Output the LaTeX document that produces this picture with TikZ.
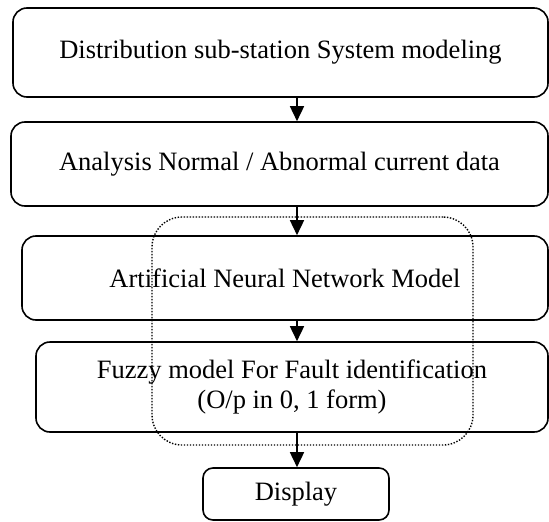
\documentclass[tikz,border=0pt]{standalone}
\usepackage{fontspec}
\setmainfont{Liberation Serif}
\usetikzlibrary{arrows.meta}
\begin{document}
\begin{tikzpicture}[x=1pt,y=-1pt,
  stepbox/.style={draw, line width=1.6pt, rounded corners=14pt, inner sep=0pt, align=center,
    font=\fontsize{26.5}{30}\selectfont},
  arr/.style={line width=1.6pt, -{Triangle[width=14pt,length=15pt]}},
  dotbox/.style={draw, line width=1.4pt, dash pattern=on 1.4pt off 1.6pt, rounded corners=30pt}]
\useasboundingbox (0,0) rectangle (549,522);
\node[stepbox, minimum width=535pt, minimum height=89pt] (b1) at (280.5,52.5) {Distribution sub-station System modeling};
\node[stepbox, minimum width=537pt, minimum height=84pt] (b2) at (279.5,164) {Analysis Normal / Abnormal current data};
\node[stepbox, minimum width=526pt, minimum height=84pt] (b3) at (285,278) {Artificial Neural Network Model};
\node[stepbox, minimum width=512pt, minimum height=90pt] (b4) at (292,387) {Fuzzy model For Fault identification\\(O/p in 0, 1 form)};
\node[stepbox, rounded corners=10pt, minimum width=186pt, minimum height=52pt] (b5) at (296,494) {Display};
\coordinate (ax) at (297,0);
\draw[arr] (b1.south -| ax) -- (b2.north -| ax);
\draw[arr] (b2.south -| ax) -- (b3.north -| ax);
\draw[arr] (b3.south -| ax) -- (b4.north -| ax);
\draw[arr] (b4.south -| ax) -- (b5.north -| ax);
\node[dotbox, minimum width=321pt, minimum height=228pt, inner sep=0pt] (grp) at (312.5,331) {};
\end{tikzpicture}
\end{document}
